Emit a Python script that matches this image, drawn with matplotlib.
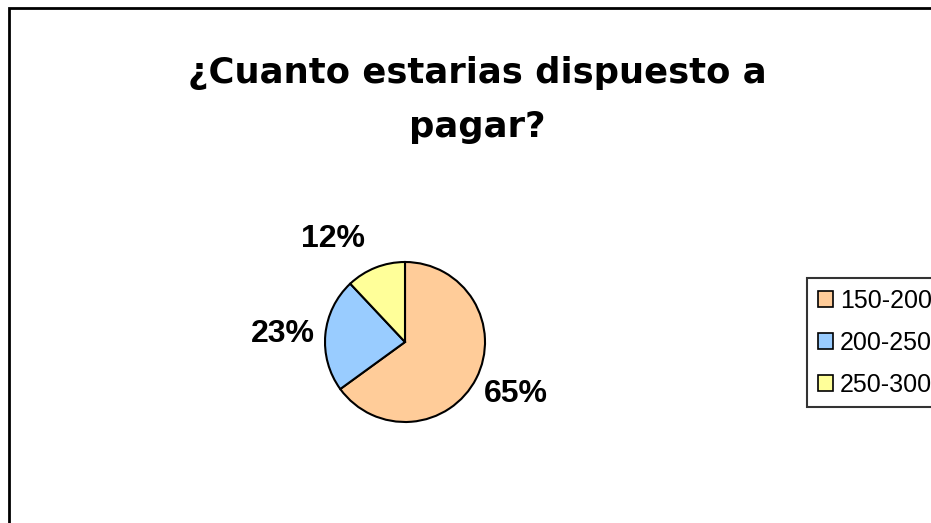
import matplotlib
matplotlib.use("Agg")
import matplotlib.pyplot as plt
from matplotlib.patches import Patch, Rectangle

# data
categories = ["150-200", "200-250", "250-300"]
shares = [65, 23, 12]
colors = ["#FFCC99", "#99CCFF", "#FFFF99"]
title = "¿Cuanto estarias dispuesto a\npagar?"

W, H = 931, 523
fig = plt.figure(figsize=(W / 100, H / 100), dpi=100)
fig.patch.set_facecolor("white")

# outer chart border (right/bottom edges fall outside the image)
fig.add_artist(Rectangle((9 / W, -0.1), 1.2, 1 - 8 / H + 0.1, transform=fig.transFigure,
                         fill=False, edgecolor="black", linewidth=2, clip_on=False))

fig.text(477 / W, 1 - 100 / H, title, ha="center", va="center",
         fontsize=25.5, fontweight="bold", family="DejaVu Sans", linespacing=1.72)

# pie: center (405, 342) px, radius 80 px
cx, cy, r = 405, 342, 80
ax = fig.add_axes([(cx - r) / W, (H - cy - r) / H, 2 * r / W, 2 * r / H])
wedges, texts = ax.pie(shares, colors=colors, startangle=90, counterclock=False,
                       labels=[f"{v}%" for v in shares], labeldistance=1.53,
                       wedgeprops=dict(edgecolor="black", linewidth=1.5),
                       textprops=dict(fontsize=23, fontweight="bold",
                                      family="Liberation Sans", ha="center", va="center"))
for w in wedges:
    w.set_clip_on(False)

# Excel-style label placement nudges (in pie radii)
nudges = [(0.02, 0.05), (0.0, -0.05), (-0.34, -0.14)]
for t, (dx, dy) in zip(texts, nudges):
    x, y = t.get_position()
    t.set_position((x + dx, y + dy))

ax.set_xlim(-1, 1)
ax.set_ylim(-1, 1)
ax.set_aspect("equal")
ax.axis("off")

handles = [Patch(facecolor=c, edgecolor="black", linewidth=1.2) for c in colors]
leg = fig.legend(handles, categories, loc="upper left",
                 bbox_to_anchor=(807 / W, 1 - 278 / H), bbox_transform=fig.transFigure,
                 borderaxespad=0, fancybox=False, frameon=True, edgecolor="black",
                 prop=dict(family="Liberation Sans", size=18),
                 handlelength=0.6, handleheight=0.6, handletextpad=0.3,
                 labelspacing=0.72, borderpad=0.42)
leg.get_frame().set_linewidth(1.5)

fig.savefig("out.png", dpi=100, facecolor="white")
